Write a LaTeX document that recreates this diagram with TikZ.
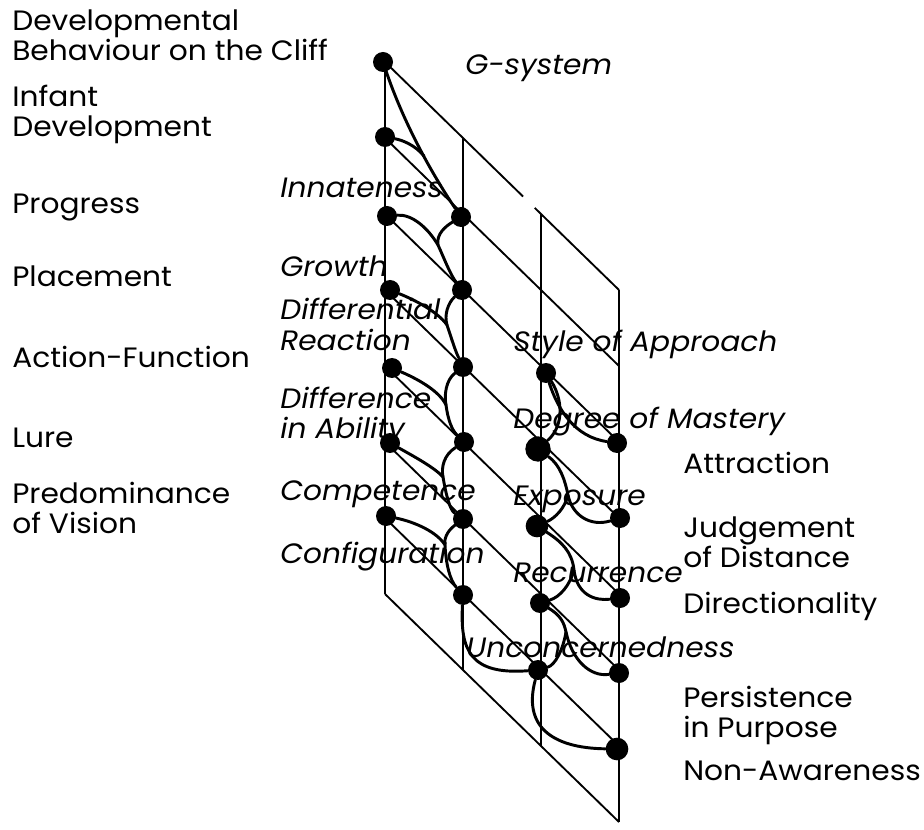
\documentclass[tikz,border=0pt]{standalone}
\usepackage{fontspec}
\setmainfont{Poppins}[FakeStretch=1.06]
\usepackage{tikz}
\usetikzlibrary{calc}

\tikzset{
  frame/.style={line width=1.4pt},
  blob/.style={circle, fill=black, inner sep=0pt, minimum size=15pt},
  link/.style={line width=2.2pt, line cap=round, line join=round},
  facetname/.style={anchor=base west, inner sep=0pt, align=left,
    font=\fontsize{21}{22.5}\selectfont},
  elemname/.style={facetname, font=\fontsize{21}{22.5}\selectfont\itshape},
}

\begin{document}
\begin{tikzpicture}[x=0.75pt, y=-0.75pt]
  \useasboundingbox (0,0) rectangle (924,830);

  % the planes
  \foreach \c/\x in {0/385, 1/463, 2/541, 3/619}
    \foreach \k in {0,...,7}
      \coordinate (p\c\k) at (\x, {62+76*(\k+\c)});
  \foreach \c in {0,...,3}
    \draw[frame] (p\c0) -- (p\c7);
  \foreach \k in {1,...,7}
    \draw[frame] (p0\k) -- (p3\k);
  \draw[frame] (p00) -- ($(p10)!0.77!(p20)$);
  \draw[frame] ($(p10)!0.92!(p20)$) -- (p30);

  % elements
  \node[blob] (a0) at (383,62) {};
  \node[blob] (a1) at (385,137) {};
  \node[blob] (a2) at (387,216) {};
  \node[blob] (a3) at (390,290) {};
  \node[blob] (a4) at (392,368) {};
  \node[blob] (a5) at (390,443) {};
  \node[blob] (a6) at (386,516) {};
  \node[blob] (b1) at (461,217) {};
  \node[blob] (b2) at (462,290) {};
  \node[blob] (b3) at (463,367) {};
  \node[blob] (b4) at (464,442) {};
  \node[blob] (b5) at (463,519) {};
  \node[blob] (b6) at (463,595) {};
  \node[blob] (c2) at (546,373) {};
  \node[blob, minimum size=19pt] (c3) at (538,449) {};
  \node[blob, minimum size=17pt] (c4) at (537,526) {};
  \node[blob] (c5) at (540,603) {};
  \node[blob] (c6) at (538,670) {};
  \node[blob] (d2) at (617,443) {};
  \node[blob] (d3) at (620,518) {};
  \node[blob] (d4) at (620,598) {};
  \node[blob] (d5) at (619,673) {};
  \node[blob, minimum size=17pt] (d6) at (617,749) {};

  % joins
  \coordinate (m1) at (424,156);
  \coordinate (m2) at (438,245);
  \coordinate (m3) at (447,325);
  \coordinate (m4) at (446,405);
  \coordinate (m5) at (443,477);
  \coordinate (m6) at (445,545);
  \coordinate (m7) at (568,495);
  \coordinate (m8) at (574,570);
  \coordinate (m9) at (566,632);

  % links
  \draw[link] (a0) .. controls (402,118) and (428,168) .. (b1);
  \draw[link] (a1) .. controls (402,140) and (415,145) .. (m1);
  \draw[link] (a2) .. controls (412,214) and (428,228) .. (m2)
                   .. controls (444,258) and (450,274) .. (b2);
  \draw[link] (b1) .. controls (446,226) and (436,234) .. (m2);
  \draw[link] (a3) .. controls (415,300) and (438,312) .. (m3)
                   .. controls (452,340) and (455,350) .. (b3);
  \draw[link] (b2) .. controls (448,303) and (444,315) .. (m3);
  \draw[link] (a4) .. controls (420,380) and (440,392) .. (m4)
                   .. controls (448,420) and (452,430) .. (b4);
  \draw[link] (b3) .. controls (446,380) and (444,395) .. (m4);
  \draw[link] (a5) .. controls (415,457) and (435,468) .. (m5)
                   .. controls (446,495) and (450,510) .. (b5);
  \draw[link] (b4) .. controls (444,455) and (441,467) .. (m5);
  \draw[link] (a6) .. controls (415,522) and (437,532) .. (m6)
                   .. controls (446,565) and (450,580) .. (b6);
  \draw[link] (b5) .. controls (446,532) and (444,540) .. (m6);
  \draw[link] (b6) .. controls (460,650) and (470,675) .. (c6);
  \draw[link] (c2) .. controls (562,398) and (565,425) .. (c3);
  \draw[link] (c2) .. controls (558,410) and (575,437) .. (d2);
  \draw[link] (c3) .. controls (560,465) and (565,480) .. (m7)
                   .. controls (572,515) and (590,527) .. (d3);
  \draw[link] (c4) .. controls (555,518) and (565,508) .. (m7);
  \draw[link] (c4) .. controls (562,542) and (572,552) .. (m8)
                   .. controls (577,595) and (595,601) .. (d4);
  \draw[link] (c5) .. controls (560,597) and (570,585) .. (m8);
  \draw[link] (c5) .. controls (560,615) and (564,622) .. (m9)
                   .. controls (572,660) and (590,677) .. (d5);
  \draw[link] (c6) .. controls (555,665) and (563,650) .. (m9);
  \draw[link] (c6) .. controls (523,725) and (550,748) .. (d6);

  % facet names
  \node[facetname] (cliff) at (12,61) {Developmental\\Behaviour on the Cliff};
  \node[facetname] (infant) at (12,137) {Infant\\Development};
  \node[facetname] (progress) at (12,214) {Progress};
  \node[facetname] (placement) at (12,287) {Placement};
  \node[facetname] (action) at (12,368) {Action-Function};
  \node[facetname] (lure) at (12,447) {Lure};
  \node[facetname] (vision) at (12,533) {Predominance\\of Vision};
  \node[facetname] (attraction) at (683,473) {Attraction};
  \node[facetname] (distance) at (683,567) {Judgement\\of Distance};
  \node[facetname] (direction) at (683,613) {Directionality};
  \node[facetname] (persistence) at (683,737) {Persistence\\in Purpose};
  \node[facetname] (nonaware) at (683,780) {Non-Awareness};

  % element names
  \node[elemname] (gsystem) at (465,75) {G-system};
  \node[elemname] (innate) at (280,198) {Innateness};
  \node[elemname] (growth) at (280,277) {Growth};
  \node[elemname] (reaction) at (280,350) {Differential\\Reaction};
  \node[elemname] (ability) at (280,438) {Difference\\in Ability};
  \node[elemname] (competence) at (280,500) {Competence};
  \node[elemname] (config) at (280,563) {Configuration};
  \node[elemname] (style) at (513,352) {Style of Approach};
  \node[elemname] (mastery) at (513,428) {Degree of Mastery};
  \node[elemname] (exposure) at (513,505) {Exposure};
  \node[elemname] (recurrence) at (513,582) {Recurrence};
  \node[elemname] (unconcern) at (466,657) {Unconcernedness};
\end{tikzpicture}
\end{document}
